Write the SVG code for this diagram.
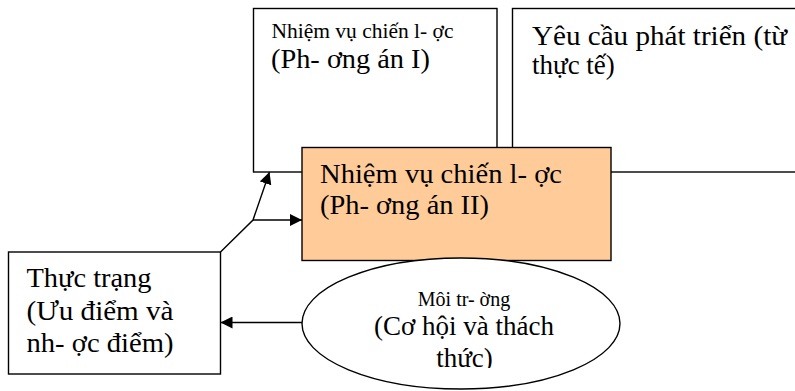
<svg xmlns="http://www.w3.org/2000/svg" width="795" height="391" viewBox="0 0 795 391">
  <style>
    .box { fill: #ffffff; stroke: #000000; stroke-width: 1.4; }
    .hot { fill: #ffcc99; stroke: #000000; stroke-width: 1.4; }
    .edge { fill: none; stroke: #000000; stroke-width: 1.4; }
    text { font-family: "Liberation Serif", "Times New Roman", serif; fill: #000000; }
    .lg { font-size: 27px; }
    .sm { font-size: 20px; }
  </style>
  <defs>
    <marker id="arrow" viewBox="0 0 12 12" refX="12" refY="6" markerWidth="12" markerHeight="12" markerUnits="userSpaceOnUse" orient="auto">
      <path d="M0,0 L12,6 L0,12 Z" fill="#000000"/>
    </marker>
    <clipPath id="ovalText">
      <rect x="300" y="280" width="320" height="88"/>
    </clipPath>
  </defs>

  <!-- strategic task, option I -->
  <g id="option1">
    <rect class="box" x="253.5" y="8.5" width="243.5" height="163.5"/>
    <text class="sm" x="271.5" y="38" textLength="182" lengthAdjust="spacingAndGlyphs">Nhiệm vụ chiến l- ợc</text>
    <text class="lg" x="271" y="68" textLength="159" lengthAdjust="spacingAndGlyphs">(Ph- ơng án I)</text>
  </g>

  <!-- development requirements -->
  <g id="requirements">
    <rect class="box" x="512.5" y="8.5" width="300" height="163.5"/>
    <text class="lg" x="532" y="45" textLength="255" lengthAdjust="spacingAndGlyphs">Yêu cầu phát triển (từ</text>
    <text class="lg" x="532" y="74">thực tế)</text>
  </g>

  <!-- strategic task, option II -->
  <g id="option2">
    <rect class="hot" x="302" y="147.5" width="309" height="113"/>
    <text class="lg" x="320" y="183" textLength="242" lengthAdjust="spacingAndGlyphs">Nhiệm vụ chiến l- ợc</text>
    <text class="lg" x="320" y="214" textLength="169" lengthAdjust="spacingAndGlyphs">(Ph- ơng án II)</text>
  </g>

  <!-- current situation -->
  <g id="situation">
    <rect class="box" x="8.5" y="252" width="212" height="122"/>
    <text class="lg" x="26.5" y="287" textLength="125" lengthAdjust="spacingAndGlyphs">Thực trạng</text>
    <text class="lg" x="26.5" y="320" textLength="147" lengthAdjust="spacingAndGlyphs">(Ưu điểm và</text>
    <text class="lg" x="26.5" y="352" textLength="147" lengthAdjust="spacingAndGlyphs">nh- ợc điểm)</text>
  </g>

  <!-- environment -->
  <g id="environment">
    <ellipse class="box" cx="461" cy="323.5" rx="159" ry="65.5"/>
    <g clip-path="url(#ovalText)">
      <text class="sm" x="464" y="306" text-anchor="middle">Môi tr- ờng</text>
      <text class="lg" x="464" y="335" text-anchor="middle">(Cơ hội và thách</text>
      <text class="lg" x="464.5" y="367" text-anchor="middle">thức)</text>
    </g>
  </g>

  <!-- connectors -->
  <g id="connectors">
    <polyline class="edge" points="220.5,252 253,220 269.5,172" marker-end="url(#arrow)"/>
    <line class="edge" x1="253" y1="220" x2="302" y2="220" marker-end="url(#arrow)"/>
    <line class="edge" x1="302" y1="322.5" x2="220.5" y2="322.5" marker-end="url(#arrow)"/>
  </g>
</svg>
